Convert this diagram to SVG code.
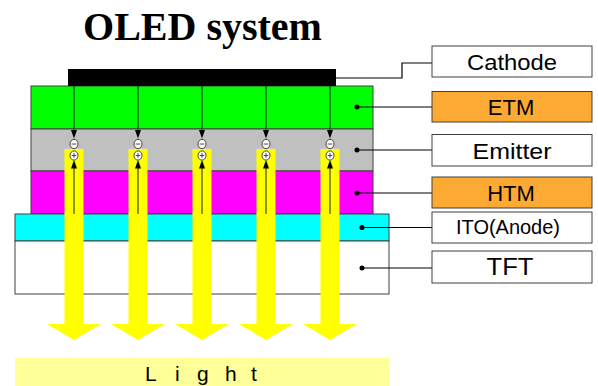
<svg xmlns="http://www.w3.org/2000/svg" xmlns:xlink="http://www.w3.org/1999/xlink" width="598" height="386" viewBox="0 0 598 386">
<style>
.layer{stroke:#404040;stroke-width:1}
.lbl{fill:#fff;stroke:#404040;stroke-width:1}
.lbl.o{fill:#FCAA33}
.lt{font-family:"Liberation Sans",Arial,sans-serif;font-size:22px;fill:#000;text-anchor:middle}
.lead{stroke:#000;stroke-width:1.2;fill:none}
.dot{fill:#000}
.eline{stroke:#222;stroke-width:1}
.ah{fill:#000}
.chg{fill:#fff;stroke:#333;stroke-width:0.9}
.sgn{stroke:#333;stroke-width:0.9}
.ya{fill:#FFFF00}
</style>
<defs>
<path id="yarrow" d="M-9.5,149 H9.5 V324 H27 L0,340 L-27,324 H-9.5 Z"/>
<g id="carrier">
<line class="eline" x1="0" y1="86" x2="0" y2="131"/>
<line class="eline" x1="0" y1="166" x2="0" y2="214"/>
<path class="ah" d="M-3,130 L3,130 L0,138.5 Z"/>
<path class="ah" d="M-3,168.5 L3,168.5 L0,160 Z"/>
<ellipse class="chg" cx="0" cy="144" rx="4" ry="4.6"/>
<line class="sgn" x1="-2.3" y1="144" x2="2.3" y2="144"/>
<ellipse class="chg" cx="0" cy="155.5" rx="4" ry="4.6"/>
<line class="sgn" x1="-2.3" y1="155.5" x2="2.3" y2="155.5"/>
<line class="sgn" x1="0" y1="153.2" x2="0" y2="157.8"/>
</g>
</defs>
<rect width="598" height="386" fill="#fff"/>
<text x="202.5" y="40" font-family="'Liberation Serif','Times New Roman',serif" font-size="40" font-weight="bold" text-anchor="middle" fill="#000">OLED system</text>
<g id="layers">
<g id="etm-layer"><rect class="layer" x="31" y="86" width="342" height="43" fill="#00FF00"/></g>
<g id="emitter-layer"><rect class="layer" x="31" y="129" width="342" height="42" fill="#C0C0C0"/></g>
<g id="htm-layer"><rect class="layer" x="31" y="171" width="342" height="43" fill="#FF00FF"/></g>
<g id="ito-layer"><rect class="layer" x="15" y="214" width="374" height="27" fill="#00FFFF"/></g>
<g id="tft-layer"><rect class="layer" x="15" y="241" width="374" height="53" fill="#FFFFFF"/></g>
<g id="cathode-layer"><rect x="68" y="69" width="268" height="17" fill="#000"/></g>
</g>
<g id="light-arrows" class="ya">
<use xlink:href="#yarrow" transform="translate(74,0)"/>
<use xlink:href="#yarrow" transform="translate(138,0)"/>
<use xlink:href="#yarrow" transform="translate(202,0)"/>
<use xlink:href="#yarrow" transform="translate(266,0)"/>
<use xlink:href="#yarrow" transform="translate(330,0)"/>
</g>
<g id="carriers">
<use xlink:href="#carrier" transform="translate(74,0)"/>
<use xlink:href="#carrier" transform="translate(138,0)"/>
<use xlink:href="#carrier" transform="translate(202,0)"/>
<use xlink:href="#carrier" transform="translate(266,0)"/>
<use xlink:href="#carrier" transform="translate(330,0)"/>
</g>
<g id="connectors">
<polyline class="lead" points="336,78 402,78 402,63 432,63"/>
<line class="lead" x1="357" y1="107" x2="432" y2="107"/>
<line class="lead" x1="357" y1="150" x2="432" y2="150"/>
<line class="lead" x1="357" y1="193" x2="432" y2="193"/>
<line class="lead" x1="362" y1="227.5" x2="432" y2="227.5"/>
<line class="lead" x1="362" y1="268" x2="432" y2="268"/>
<circle class="dot" cx="357" cy="107" r="2.5"/>
<circle class="dot" cx="357" cy="150" r="2.5"/>
<circle class="dot" cx="357" cy="193" r="2.5"/>
<circle class="dot" cx="362" cy="227.5" r="2.5"/>
<circle class="dot" cx="362" cy="268" r="2.5"/>
</g>
<g id="label-cathode"><rect class="lbl" x="432" y="46" width="160" height="31"/><text class="lt" x="512" y="70" textLength="90" lengthAdjust="spacingAndGlyphs">Cathode</text></g>
<g id="label-etm"><rect class="lbl o" x="432" y="91.5" width="160" height="30.5"/><text class="lt" x="511" y="114.5">ETM</text></g>
<g id="label-emitter"><rect class="lbl" x="432" y="134.5" width="160" height="31.5"/><text class="lt" x="512" y="159" textLength="79" lengthAdjust="spacingAndGlyphs">Emitter</text></g>
<g id="label-htm"><rect class="lbl o" x="432" y="177" width="160" height="31"/><text class="lt" x="511" y="200.5">HTM</text></g>
<g id="label-ito"><rect class="lbl" x="432" y="212" width="160" height="31"/><text class="lt" x="508" y="234" style="font-size:20px" textLength="104" lengthAdjust="spacingAndGlyphs">ITO(Anode)</text></g>
<g id="label-tft"><rect class="lbl" x="432" y="251" width="160" height="32"/><text class="lt" x="510" y="275" style="font-size:23px" textLength="47" lengthAdjust="spacingAndGlyphs">TFT</text></g>
<g id="light-label">
<rect x="15" y="358" width="374" height="30" fill="#FFFF99"/>
<text font-family="'Liberation Sans',Arial,sans-serif" font-size="21" fill="#000" x="145 175 197 225 251" y="380.5">Light</text>
</g>
</svg>
